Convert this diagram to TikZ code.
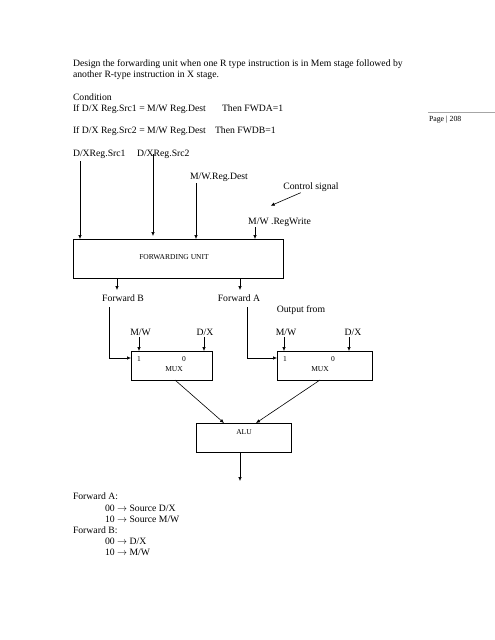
\documentclass[tikz,border=0pt]{standalone}
\usepackage{fontspec}
\setmainfont{Liberation Serif}
\usetikzlibrary{arrows.meta}

\begin{document}
\begin{tikzpicture}[x=1pt, y=-1pt, line width=0.6pt,
    every node/.style={inner sep=0, outer sep=0},
    txt/.style={anchor=base west, font=\fontsize{9.7}{11.2}\selectfont},
    lbl/.style={anchor=base, font=\fontsize{9.7}{11.2}\selectfont},
    tiny/.style={anchor=base, font=\fontsize{7.5}{8.5}\selectfont},
    unitbox/.style={draw, minimum width=#1, minimum height=29pt},
    arr/.style={-{Latex[length=4pt, width=3.5pt]}}]
  \useasboundingbox (0,0) rectangle (495,640);
  \node [txt] (intro1) at (73,66.3) {Design the forwarding unit when one R type instruction is in Mem stage followed by};
  \node [txt] (intro2) at (73,77.5) {another R-type instruction in X stage.};
  \node [txt] (cond) at (73,100) {Condition};
  \node [txt] (ifa) at (73,111.2) {If D/X Reg.Src1 = M/W Reg.Dest};
  \node [txt] (thena) at (222,111.2) {Then FWDA=1};
  \node [txt] (ifb) at (73,133.6) {If D/X Reg.Src2 = M/W Reg.Dest};
  \node [txt] (thenb) at (215,133.6) {Then FWDB=1};
  \node [txt] (srca) at (73,156) {D/XReg.Src1};
  \node [txt] (srcb) at (137,156) {D/XReg.Src2};
  \node [anchor=base west, font=\fontsize{7.8}{9}\selectfont] (page) at (429,121.5) {Page | 208};
  \draw [black!35, line width=0.4pt] (page.west |- 0,112) ++(-1,0) -- (495,112);

  \node [draw, minimum width=210pt, minimum height=39pt] (fu) at (178,258.5) {};
  \node [tiny] (futext) at (174,259.4) {FORWARDING UNIT};
  \node [lbl] (dest) at (219,179) {M/W.Reg.Dest};
  \node [lbl] (ctrl) at (311,189) {Control signal};
  \node [lbl] (regw) at (279.5,224) {M/W .RegWrite};
  \coordinate (ina) at (80,161);
  \coordinate (inb) at (153,154);
  \coordinate (ind) at (196,183);
  \coordinate (inw) at (255,227);
  \coordinate (ctla) at (300.7,192.7);
  \coordinate (ctlb) at (270.7,205.7);
  \foreach \c in {ina,ind,inw} {\draw [arr] (\c) -- (\c |- fu.north);}
  \draw [arr, shorten >=3pt] (inb) -- (inb |- fu.north);
  \draw [arr] (ctla) -- (ctlb);

  \node [lbl] (fwdb) at (123,301) {Forward B};
  \node [lbl] (fwda) at (239,301) {Forward A};
  \node [lbl] (outfrom) at (301,312) {Output from};
  \coordinate (outb) at (117,290);
  \coordinate (outa) at (240,290);
  \foreach \c in {outb,outa} {\draw [arr] (\c |- fu.south) -- (\c);}

  \node [unitbox=81pt] (mux1) at (171.5,365.5) {};
  \node [unitbox=95pt] (mux2) at (324.5,365.5) {};
  \node [unitbox=95pt] (alu) at (243.5,437.5) {};
  \foreach \b/\one/\zero/\mx in {mux1/139/184/174, mux2/285/333/320} {
    \node [tiny] (one\b) at (\one,361.5) {1};
    \node [tiny] (zero\b) at (\zero,361.5) {0};
    \node [tiny] (name\b) at (\mx,371.5) {MUX};
  }
  \node [tiny] (alutext) at (244,434.5) {ALU};
  \node [lbl] (mwa) at (140.5,335) {M/W};
  \node [lbl] (dxa) at (205,335) {D/X};
  \node [lbl] (mwb) at (286,335) {M/W};
  \node [lbl] (dxb) at (353,335) {D/X};
  \foreach \x/\b in {139/mux1, 204/mux1, 284/mux2, 349/mux2} {\draw [arr] (\x,337) -- (\x,337 |- \b.north);}
  \coordinate (selb) at (109,307);
  \coordinate (sela) at (247,307);
  \draw [arr] (selb) |- ([yshift=7.5pt]mux1.west);
  \draw [arr] (sela) |- ([yshift=7.5pt]mux2.west);
  \draw [arr] ([xshift=3.5pt]mux1.south) -- ([xshift=-19.5pt]alu.north);
  \draw [arr] ([xshift=-4.5pt]mux2.south) -- ([xshift=12.5pt]alu.north);
  \coordinate (aluout) at (240,481);
  \draw [arr] (aluout |- alu.south) -- (aluout);

  \node [txt] (keya) at (73,499.7) {Forward A:};
  \node [txt] (keya0) at (105,511) {00 $\rightarrow$ Source D/X};
  \node [txt] (keya1) at (105,522.3) {10 $\rightarrow$ Source M/W};
  \node [txt] (keyb) at (73,533.5) {Forward B:};
  \node [txt] (keyb0) at (105,544.7) {00 $\rightarrow$ D/X};
  \node [txt] (keyb1) at (105,555.9) {10 $\rightarrow$ M/W};
\end{tikzpicture}
\end{document}
